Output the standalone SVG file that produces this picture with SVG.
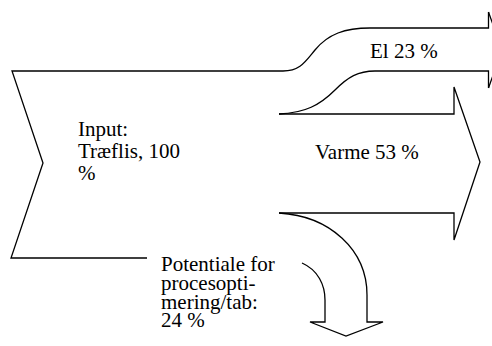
<svg xmlns="http://www.w3.org/2000/svg" width="492" height="346" viewBox="0 0 492 346">
<style>
.ln{fill:none;stroke:#000;stroke-width:1.3;stroke-linejoin:miter}
.t{font-family:"Liberation Serif","Times New Roman",serif;font-size:21px;fill:#000}
</style>
<rect width="492" height="346" fill="#fff"/>
<g id="connectors">
<path class="ln" d="M488.5,12 L488.5,28 L370,28 C345,28 328,34 315,50 C305,62 300,71 283,71"/>
<path class="ln" d="M488.5,88 L488.5,71 L375,71 C358,71 348,77 335,90 C320,105 305,113 279,114"/>
<path class="ln" d="M488.5,12 L502,50 M488.5,88 L502,50"/>
</g>
<g id="input">
<path class="ln" d="M283,71 L12,71 L43,163 L11,258 L147,258"/>
<text class="t"><tspan x="78" y="136">Input:</tspan><tspan x="78" y="158">Træflis, 100</tspan><tspan x="78" y="180">%</tspan></text>
</g>
<g id="el">
<text class="t" x="370" y="58">El 23 %</text>
</g>
<g id="varme">
<path class="ln" d="M279,114 L454,114 L454,87 L480,162 L454,240 L454,213 L279,213"/>
<text class="t" x="315" y="159">Varme 53 %</text>
</g>
<g id="tab">
<path class="ln" d="M279,213 C330,216 367,250 367,295 L367,322 L383,322 L346,336 L310,322 L325,322 L325,300 C325,285 318,270 302,263"/>
<text class="t"><tspan x="161" y="271">Potentiale for</tspan><tspan x="161" y="290">procesopti-</tspan><tspan x="161" y="309">mering/tab:</tspan><tspan x="161" y="327">24 %</tspan></text>
</g>
</svg>
